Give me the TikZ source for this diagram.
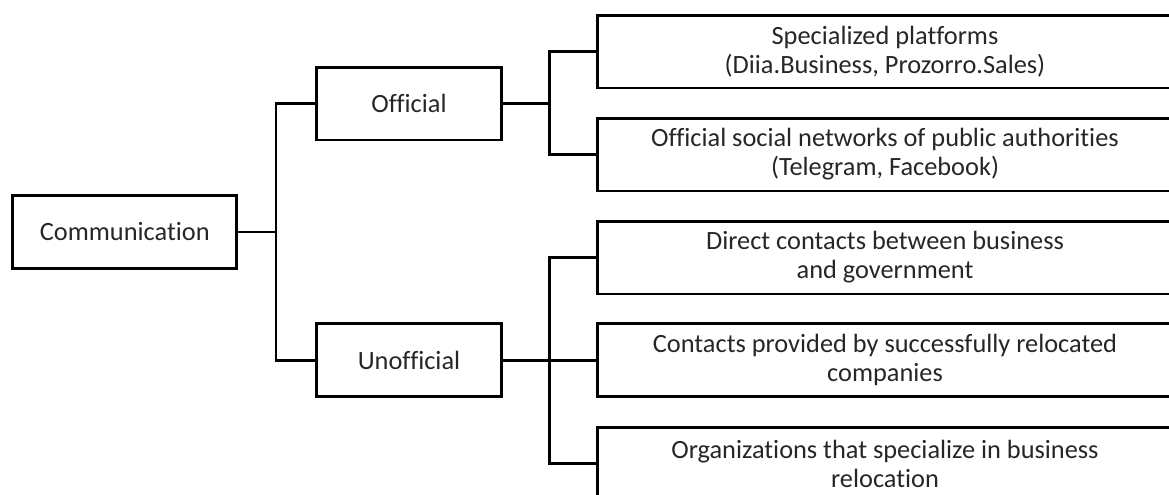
\documentclass[tikz,border=0pt]{standalone}
\usepackage{fontspec}
\setmainfont[Ligatures=NoCommon]{Carlito}
\begin{document}
\begin{tikzpicture}[x=0.02cm,y=-0.02cm,
		box/.style={draw,line width=1.7pt,inner sep=0pt,minimum height=1.46cm,align=center,text=black!85,font=\fontsize{15}{16.5}\selectfont},
		link/.style={line width=1.7pt}]
				\useasboundingbox (0,0) rectangle (1169,494);
				\clip (0,0) rectangle (1169,494);
				%
				\coordinate (trunk) at (276,232);
				\coordinate (obr) at (549,103.5);
				\coordinate (ubr) at (549,360);
				%
				\node[box,minimum width=4.48cm] (comm) at (124.8,232) {Communication};
				\node[box,minimum width=3.72cm] (off) at (409,103.5) {Official};
				\node[box,minimum width=3.72cm] (unoff) at (409,360) {Unofficial};
				\foreach \y/\t [count=\i] in {
						51.5/{Specialized platforms\\(Diia.Business, Prozorro.Sales)},
						154.5/{Official social networks of public authorities\\(Telegram, Facebook)},
						257.5/{Direct contacts between business\\and government},
						360/{Contacts provided by successfully relocated\\companies},
						463.5/{Organizations that specialize in business\\relocation}}
				\node[box,minimum width=11.52cm] (r\i) at (885,\y) {\t};
				%
				\draw[link] (comm.east) -- (trunk);
				\draw[link] (off.west) -| (trunk) |- (unoff.west);
				\draw[link] (off.east) -- (obr);
				\draw[link] (r1.west) -| (obr) |- (r2.west);
				\draw[link] (unoff.east) -- (r4.west);
				\draw[link] (r3.west) -| (ubr) |- (r5.west);
			\end{tikzpicture}
\end{document}
